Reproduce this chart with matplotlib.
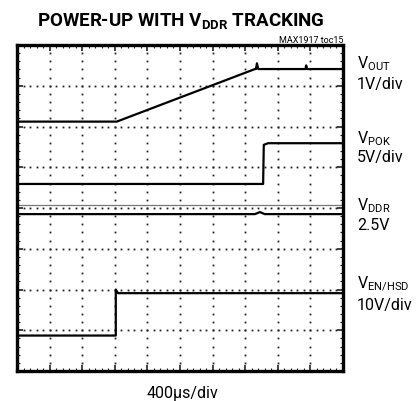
import numpy as np
import matplotlib
matplotlib.use('Agg')
import matplotlib.pyplot as plt

plt.rcParams['font.family'] = ['Roboto', 'DejaVu Sans']
plt.rcParams['mathtext.fontset'] = 'custom'
plt.rcParams['mathtext.rm'] = 'Roboto'
plt.rcParams['mathtext.bf'] = 'Roboto:bold'

# traces, in scope divisions (x: 0-10, y: 0-8 from bottom)
vout_t = [0, 3.06, 7.30, 7.33, 7.36, 7.40, 8.85, 8.87, 8.90, 10]
vout_v = [6.12, 6.12, 7.41, 7.41, 7.55, 7.41, 7.41, 7.50, 7.41, 7.41]
vpok_t = [0, 7.55, 7.57, 7.70, 10]
vpok_v = [4.59, 4.59, 5.55, 5.59, 5.59]
vddr_t = [0, 7.30, 7.45, 7.60, 10]
vddr_v = [3.85, 3.85, 3.90, 3.85, 3.85]
ven_t = [0, 3.03, 3.03, 3.10, 10]
ven_v = [0.87, 0.87, 2.00, 1.91, 1.91]

labels = [(r'V$_{\mathrm{OUT}}$', '1V/div', 68, 89),
          (r'V$_{\mathrm{POK}}$', '5V/div', 143, 162),
          (r'V$_{\mathrm{DDR}}$', '2.5V', 210, 230),
          (r'V$_{\mathrm{EN/HSD}}$', '10V/div', 288, 310)]

W, H = 420, 402
fig = plt.figure(figsize=(W / 100, H / 100), dpi=100)
ax = fig.add_axes([17 / W, 1 - 372 / H, 326 / W, 326 / H])
ax.set_xlim(0, 10)
ax.set_ylim(0, 8)

# graticule: dotted lines every division, dots at 1/5 div
for k in range(1, 8):
    xs = np.arange(0, 10.001, 0.2)
    ax.plot(xs, np.full_like(xs, k), ls='none', marker='s', ms=1.3, mew=0, color='#222222')
for k in range(1, 10):
    ys = np.arange(0, 8.001, 0.2)
    ax.plot(np.full_like(ys, k), ys, ls='none', marker='s', ms=1.3, mew=0, color='#222222')
ax.axhline(4.08, color='#777777', lw=0.9)

ax.set_xticks(range(0, 11))
ax.set_yticks(range(0, 9))
ax.set_xticks(np.arange(0, 10.001, 0.2), minor=True)
ax.set_yticks(np.arange(0, 8.001, 0.2), minor=True)
ax.tick_params(which='both', direction='in', top=True, right=True,
               labelbottom=False, labelleft=False, color='#222222')
ax.tick_params(which='major', length=4, width=1.2)
ax.tick_params(which='minor', length=2.5, width=0.8)
for s in ax.spines.values():
    s.set_linewidth(2.4)
    s.set_color('black')
    s.set_zorder(5)

for t, v in [(vout_t, vout_v), (vpok_t, vpok_v), (vddr_t, vddr_v), (ven_t, ven_v)]:
    ax.plot(t, v, color='black', lw=1.6)

fig.text(181 / W, 1 - 27 / H, r'POWER-UP WITH V$_{\mathbf{DDR}}$ TRACKING',
         ha='center', va='baseline', fontsize=13.5, fontweight='bold')
fig.text(343 / W, 1 - 43 / H, 'MAX1917 toc15', ha='right', va='baseline', fontsize=6.5)

for name, scale, y1, y2 in labels:
    fig.text(357 / W, 1 - y1 / H, name, ha='left', va='baseline', fontsize=11.5)
    fig.text(357 / W, 1 - y2 / H, scale, ha='left', va='baseline', fontsize=11.5)

fig.text(182 / W, 1 - 398 / H, '400\u00b5s/div', ha='center', va='baseline', fontsize=11.5)

fig.savefig('out.png', dpi=100)
